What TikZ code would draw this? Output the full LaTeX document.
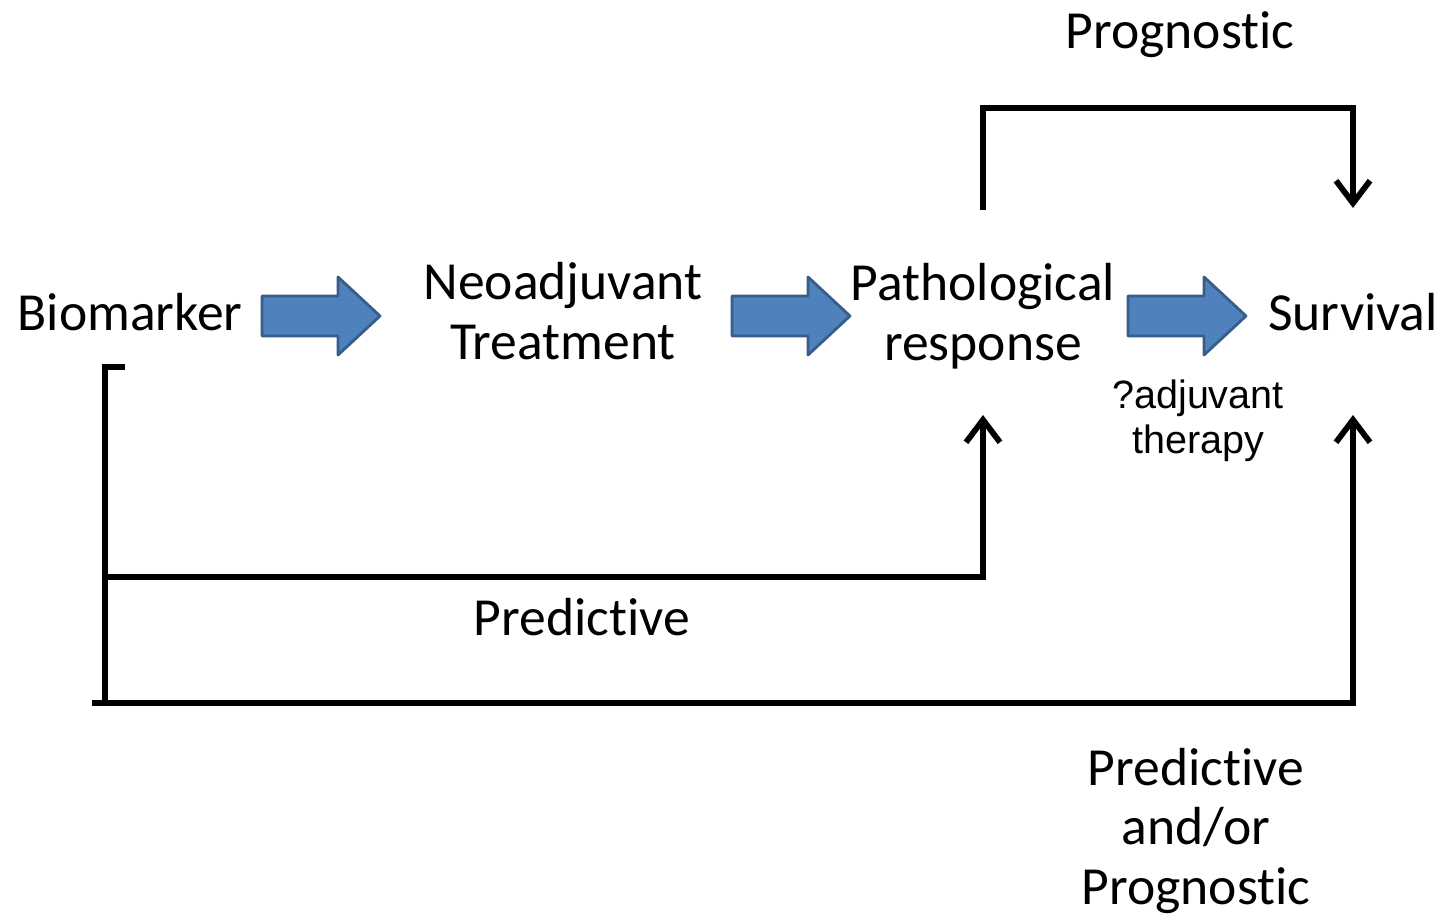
\documentclass[tikz,border=0pt]{standalone}
\usepackage{fontspec}
\setmainfont{Carlito}[Ligatures=NoCommon]
\newfontfamily\arialfont{Liberation Sans}
\usetikzlibrary{calc,arrows.meta}
\definecolor{arrowblue}{HTML}{4F81BD}
\definecolor{arrowedge}{HTML}{385D8A}
\def\blockarrow(#1){\draw[blockarrow] ($(#1)+(-59,-20)$) -- ++(76,0) -- ++(0,-19) -- ++(42,39) -- ++(-42,39) -- ++(0,-19) -- ++(-76,0) -- cycle;}

\begin{document}
\begin{tikzpicture}[x=0.02cm, y=-0.02cm,
	lbl/.style={font=\fontsize{30.5}{34}\selectfont, align=center, inner sep=0},
	note/.style={font=\arialfont\fontsize{22.5}{25.5}\selectfont, align=center, inner sep=0},
	conn/.style={line width=3.3pt},
	tip/.style={-{Straight Barb[length=4.5mm, width=6.8mm]}},
	blockarrow/.style={fill=arrowblue, draw=arrowedge, line width=1.6pt, line join=round}]
		%%%%% START %%%%%
		\useasboundingbox (0,0) rectangle (1448,918);
		
		\node[lbl] (bio) at (130, 312) {Biomarker};
		\node[lbl] (neo) at (563, 311) {Neoadjuvant\\Treatment};
		\node[lbl] (path) at (983, 316) {Pathological\\response};
		\node[lbl] (surv) at (1353, 312) {Survival};
		\node[note] (adj) at (1198, 421) {?adjuvant\\therapy};
		
		\node[lbl] (prog) at (1180, 35) {Prognostic};
		\node[lbl] (pred) at (582, 617) {Predictive};
		\node[lbl] (predprog) at (1196, 831) {Predictive\\and/or\\Prognostic};
		
		\coordinate (arr1) at (321, 316);
		\coordinate (arr2) at (791, 316);
		\coordinate (arr3) at (1187, 316);
		\blockarrow(arr1)
		\blockarrow(arr2)
		\blockarrow(arr3)
		
		\coordinate (pathtop) at (983, 210);
		\coordinate (survtop) at (1353, 208);
		\draw[conn, tip] (pathtop) -- ++(0, -102) -| (survtop);
		
		\coordinate (brk) at (125, 367);
		\coordinate (bcorner) at (105, 703);
		\coordinate (bleft) at (92, 703);
		\coordinate (predstart) at (105, 577);
		\coordinate (pathbot) at (983, 415);
		\coordinate (survbot) at (1353, 415);
		\draw[conn] (brk) -| (bcorner);
		\draw[conn, tip] (predstart) -| (pathbot);
		\draw[conn, tip] (bleft) -| (survbot);
		
		%%%%% END %%%%%
\end{tikzpicture}
\end{document}
